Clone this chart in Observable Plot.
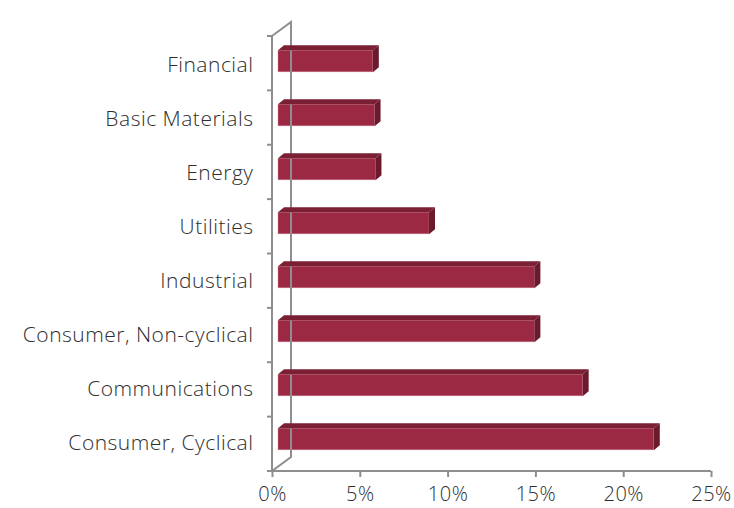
<!DOCTYPE html>
<html>
<head>
<meta charset="utf-8">
<script src="https://cdn.jsdelivr.net/npm/d3@7"></script>
<script src="https://cdn.jsdelivr.net/npm/@observablehq/plot@0.6"></script>
<style>
  body { margin: 0; background: #fff; }
  #chart svg { display: block; }
  #chart [aria-label="x-axis tick"] { stroke: #8e8e8e; stroke-width: 2; }
  #chart text { font-weight: 300; letter-spacing: 0.5px; }
</style>
</head>
<body>
<div id="chart"></div>
<script>
// ---- data ----
const categories = [
  "Financial",
  "Basic Materials",
  "Energy",
  "Utilities",
  "Industrial",
  "Consumer, Non-cyclical",
  "Communications",
  "Consumer, Cyclical"
];
const values = [5.4, 5.5, 5.55, 8.6, 14.6, 14.6, 17.35, 21.4];
const xTicks = [0, 5, 10, 15, 20, 25];
const xDomain = [0, 25];

// ---- styling ----
const frontColor = "#9c2943";
const topColor = "#7b1f34";
const sideColor = "#6a1a2c";
const axisColor = "#8e8e8e";
const depth = {dx: 6, dy: -5};       // bar depth (top / side faces)
const wall = {dx: 19, dy: -14};      // back wall offset
const barShift = {dx: 6, dy: -4};    // bars sit inside the 3D box

const data = categories.map((c, i) => ({category: c, value: values[i]}));

const W = 734, H = 508;
const mTop = 36, mBottom = 37, mLeft = 272, mRight = 23;
const step = (H - mTop - mBottom) / categories.length;
const barH = 22;
const inset = (step - barH) / 2;

const chart = Plot.plot({
  width: W,
  height: H,
  marginTop: mTop,
  marginBottom: mBottom,
  marginLeft: mLeft,
  marginRight: mRight,
  style: {fontFamily: "'Open Sans', Lato, sans-serif", fontSize: "21px", color: "#2e2e2e", background: "#fff", overflow: "visible"},
  x: {domain: xDomain, label: null},
  y: {domain: categories, label: null, padding: 0},
  marks: [
    Plot.axisX({ticks: xTicks, tickFormat: d => d + "%", tickSize: 6, tickPadding: 9, fontSize: 20}),
    Plot.axisY({tickSize: 0, tickPadding: 19, fontSize: 21}),
    Plot.barX(data, {
      x1: 0, x2: "value", y: "category",
      insetTop: inset, insetBottom: inset,
      dx: barShift.dx, dy: barShift.dy,
      fill: frontColor, stroke: "#d9899b", strokeWidth: 0.6, strokeOpacity: 0.7
    })
  ]
});

document.getElementById("chart").appendChild(chart);

// ---- 3D decorations drawn from the plot's own scales ----
const xs = chart.scale("x");
const ys = chart.scale("y");
const xf = xs.apply ? (v => xs.apply(v)) : d3.scaleLinear(xs.domain, xs.range);
const yStart = c => ys.apply ? ys.apply(c) : (ys.range[0] + categories.indexOf(c) * step);
const svg = d3.select(chart);
const g = svg.append("g");

const x0 = xf(0);
const yTop = ys.range ? Math.min(...ys.range) : mTop;
const yBot = ys.range ? Math.max(...ys.range) : H - mBottom;

// back wall
g.append("path")
  .attr("d", `M${x0},${yTop}L${x0 + wall.dx},${yTop + wall.dy}L${x0 + wall.dx},${yBot + wall.dy}L${x0},${yBot}`)
  .attr("fill", "none").attr("stroke", axisColor).attr("stroke-width", 2);
// front left axis line + bottom axis line
g.append("path")
  .attr("d", `M${x0},${yTop}L${x0},${yBot}L${xf(xDomain[1])},${yBot}`)
  .attr("fill", "none").attr("stroke", axisColor).attr("stroke-width", 2);
// category boundary ticks
for (let i = 0; i <= categories.length; i++) {
  const y = yTop + i * step;
  g.append("line").attr("x1", x0 - 5).attr("x2", x0).attr("y1", y).attr("y2", y)
    .attr("stroke", axisColor).attr("stroke-width", 2);
}

// bar top and side faces
const faces = svg.append("g");
data.forEach(d => {
  const xa = xf(0) + barShift.dx;
  const xb = xf(d.value) + barShift.dx;
  const yt = yStart(d.category) + inset + barShift.dy;
  const yb = yt + barH;
  faces.append("path")
    .attr("d", `M${xa},${yt}L${xb},${yt}L${xb + depth.dx},${yt + depth.dy}L${xa + depth.dx},${yt + depth.dy}Z`)
    .attr("fill", topColor);
  faces.append("path")
    .attr("d", `M${xb},${yt}L${xb + depth.dx},${yt + depth.dy}L${xb + depth.dx},${yb + depth.dy}L${xb},${yb}Z`)
    .attr("fill", sideColor);
});
</script>
</body>
</html>
